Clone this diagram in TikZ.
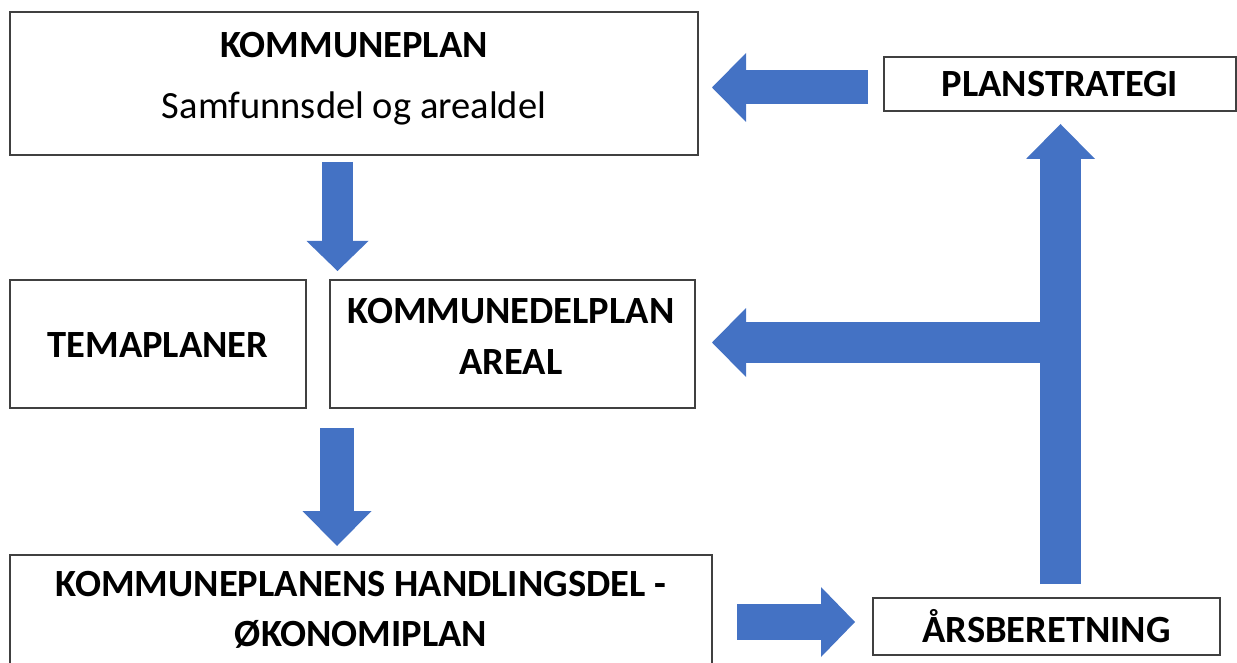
\documentclass[tikz,border=0pt]{standalone}
\usepackage{fontspec}
\setmainfont{Carlito}
\usetikzlibrary{arrows.meta}

\definecolor{planblue}{HTML}{4472C4}
\definecolor{framegray}{HTML}{404040}

\tikzset{
  planbox/.style={draw=framegray, line width=1.3pt, inner sep=0pt},
  plantext/.style={inner sep=0pt, align=center, font=\fontsize{38.5}{45}\selectfont\bfseries},
  plansub/.style={inner sep=0pt, font=\fontsize{38.5}{45}\selectfont},
  flow/.style n args={3}{draw=planblue, line width=#1, -{Triangle[width=#2, length=#3, line width=0pt]}},
}

\begin{document}
\begin{tikzpicture}[x=1pt, y=-1pt]
  \clip (0,0) rectangle (1237,663);

  % boxes
  \node[planbox, minimum width=688pt, minimum height=143pt] (kplan) at (354,83.5) {};
  \node[planbox, minimum width=352pt, minimum height=54pt] (strat) at (1060,84) {};
  \node[planbox, minimum width=296pt, minimum height=128pt] (tema) at (158,344) {};
  \node[planbox, minimum width=365pt, minimum height=128pt] (kdel) at (512.5,344) {};
  \node[planbox, minimum width=702pt, minimum height=125pt] (handl) at (361,617.5) {};
  \node[planbox, minimum width=347pt, minimum height=57pt] (aars) at (1046.5,626.5) {};

  % texts
  \node[plantext] (kplantitle) at (354,45) {KOMMUNEPLAN};
  \node[plansub] (kplansub) at (354,108) {Samfunnsdel og arealdel};
  \node[plantext] (strattext) at (strat) {PLANSTRATEGI};
  \node[plantext] (tematext) at (158,345) {TEMAPLANER};
  \node[plantext] (kdeltext) at (511,336.5) {KOMMUNEDELPLAN\\[6pt]AREAL};
  \node[plantext] (handltext) at (361,610) {KOMMUNEPLANENS HANDLINGSDEL -\\[5pt]ØKONOMIPLAN};
  \node[plantext] (aarstext) at (aars) {ÅRSBERETNING};

  % arrow ends
  \coordinate (stratout) at (868,87.5);
  \coordinate (kplanin) at (712,87.5);
  \coordinate (kplanout) at (337.5,162);
  \coordinate (kdelin) at (337.5,271);
  \coordinate (kdelout) at (337,428);
  \coordinate (handlin) at (337,546);
  \coordinate (handlout) at (737,622);
  \coordinate (aarsin) at (855,622);
  \coordinate (aarsout) at (1060.5,584);
  \coordinate (stratin) at (1060.5,124);
  \coordinate (tee) at (1040,342.5);
  \coordinate (kdelside) at (712,342.5);

  % flow
  \draw[flow={34pt}{69pt}{34pt}] (stratout) -- (kplanin);
  \draw[flow={31pt}{62pt}{30pt}] (kplanout) -- (kdelin);
  \draw[flow={34pt}{69pt}{35pt}] (kdelout) -- (handlin);
  \draw[flow={36pt}{70pt}{34pt}] (handlout) -- (aarsin);
  \draw[flow={41pt}{69pt}{34pt}] (tee) -- (kdelside);
  \draw[flow={41pt}{69pt}{35pt}] (aarsout) -- (stratin);
\end{tikzpicture}
\end{document}
